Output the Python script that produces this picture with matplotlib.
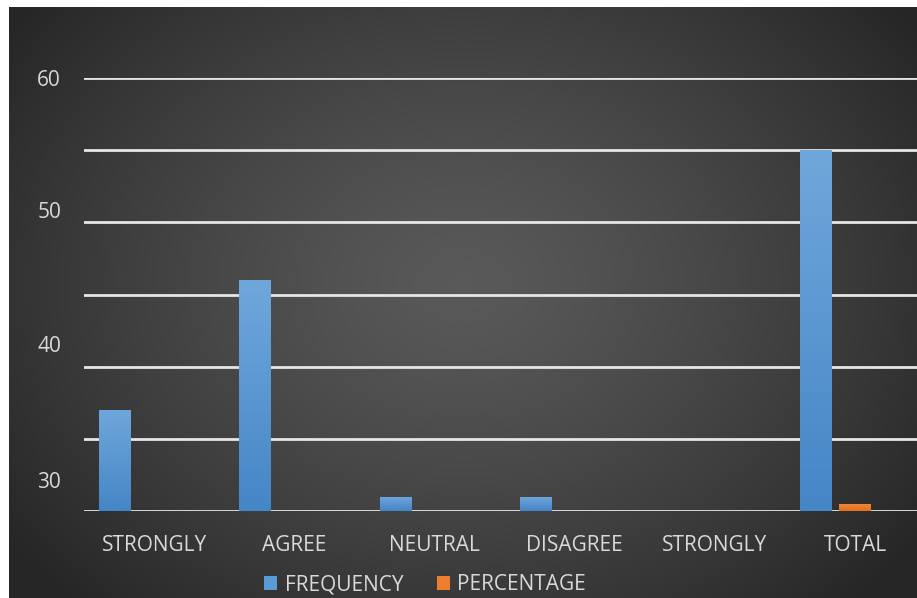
import numpy as np
import matplotlib
matplotlib.use("Agg")
import matplotlib.pyplot as plt
from matplotlib.patches import Patch

categories = ["STRONGLY", "AGREE", "NEUTRAL", "DISAGREE", "STRONGLY", "TOTAL"]
frequency = [14, 32, 2, 2, 0, 50]
percentage = [0, 0, 0, 0, 0, 1.0]

# the odd axis labels as they appear on the original chart
ytick_labels = ["60", "50", "40", "30"]
ytick_places = [60, 41.7, 23.1, 4.3]

text_color = "#d9d9d9"
freq_top, freq_bottom = "#70a7db", "#4586c6"
perc_top, perc_bottom = "#f5883a", "#e0701f"

plt.rcParams["font.family"] = ["Open Sans", "DejaVu Sans"]

W, H, dpi = 917, 598, 100
fig = plt.figure(figsize=(W / dpi, H / dpi), dpi=dpi, facecolor="white")

# dark radial background
bg = fig.add_axes([9 / W, 0, 1 - 9 / W, 1 - 7 / H])
bg.set_axis_off()
yy, xx = np.mgrid[0:1:300j, 0:1:460j]
r = np.sqrt(((xx - 0.5) / 0.62) ** 2 + ((yy - 0.47) / 0.75) ** 2)
shade = np.clip(0.35 - 0.2 * r ** 1.3, 0.15, 0.36)
bg.imshow(np.dstack([shade] * 3), aspect="auto", extent=[0, 1, 0, 1])
bg.set_xlim(0, 1)
bg.set_ylim(0, 1)

ax = fig.add_axes([84 / W, (H - 511) / H, 1 - 84 / W, (511 - 78) / H])
ax.patch.set_alpha(0)
x = np.arange(len(categories))
bar_w = 0.228


def gradient_bars(xs, heights, top, bottom, label):
    bars = ax.bar(xs, heights, bar_w, color=bottom, label=label, zorder=3)
    cmap = matplotlib.colors.LinearSegmentedColormap.from_list("g", [bottom, top])
    grad = np.linspace(0, 1, 100).reshape(-1, 1)
    for b in bars:
        if b.get_height() <= 0:
            continue
        im = ax.imshow(grad, cmap=cmap, aspect="auto", origin="lower",
                       extent=[b.get_x(), b.get_x() + b.get_width(), 0, b.get_height()],
                       zorder=3.5)
        im.set_clip_path(b)
    return bars


gradient_bars(x - 0.278, frequency, freq_top, freq_bottom, "FREQUENCY")
gradient_bars(x, percentage, perc_top, perc_bottom, "PERCENTAGE")

for g in range(0, 70, 10):
    ax.axhline(g, color="#e6e6e6", lw=2.0, zorder=2)

ax.set_xlim(-0.5, 5.44)
ax.set_ylim(0, 60)
ax.set_xticks(x)
ax.set_xticklabels(categories)
ax.set_yticks(ytick_places)
ax.set_yticklabels(ytick_labels)
ax.tick_params(axis="both", length=0, labelcolor=text_color, labelsize=15)
ax.tick_params(axis="y", pad=16.5)
ax.tick_params(axis="x", pad=17)
for s in ax.spines.values():
    s.set_visible(False)

handles = [Patch(facecolor="#5b9bd5", label="FREQUENCY"),
           Patch(facecolor="#ed7d31", label="PERCENTAGE")]
fig.legend(handles=handles, loc="center", bbox_to_anchor=(425 / W, 1 - 585 / H),
           ncol=2, frameon=False, fontsize=15, labelcolor=text_color,
           handlelength=0.65, handleheight=0.65, handletextpad=0.35,
           columnspacing=1.6)

fig.savefig("out.png", dpi=dpi, facecolor="white")
